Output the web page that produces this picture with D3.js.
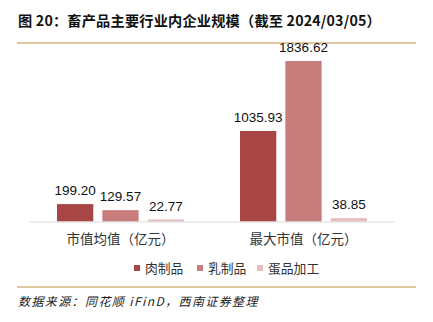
<!DOCTYPE html>
<html><head><meta charset="utf-8">
<script src="https://cdn.jsdelivr.net/npm/d3@7"></script>
<style>
body{margin:0;background:#fff;}
svg{display:block;}
</style></head>
<body><svg id="c" width="433" height="322"></svg>
<script>
const categories = ["市值均值（亿元）", "最大市值（亿元）"];
const seriesNames = ["肉制品", "乳制品", "蛋品加工"];
const meatValues = [199.20, 1035.93];
const dairyValues = [129.57, 1836.62];
const eggValues = [22.77, 38.85];
const colors = ["#A84545", "#C97C7C", "#E6BDBD"];

const seriesValues = [meatValues, dairyValues, eggValues];
const svg = d3.select("#c");
const font = "'Liberation Sans', Arial, sans-serif";
const cjk = "'Noto Sans CJK SC', sans-serif";

// title
svg.append("text").attr("x", 18).attr("y", 26)
  .attr("font-family", cjk).attr("font-weight", "bold").attr("font-size", 14.2)
  .attr("letter-spacing", 0.2)
  .attr("fill", "#111").text("图 20：畜产品主要行业内企业规模（截至 2024/03/05）");
svg.append("line").attr("x1", 17).attr("x2", 416).attr("y1", 43).attr("y2", 43)
  .attr("stroke", "#D6B57E").attr("stroke-width", 1.5);

const baseY = 221.5;
const y = d3.scaleLinear().domain([0, 1836.62]).range([baseY, 61]);
const x0 = d3.scaleBand().domain(categories).range([29, 395]).padding(0);
const x1 = d3.scaleBand().domain(seriesNames).range([28, 155]).paddingInner(0.2).paddingOuter(0);

const g = svg.append("g");
categories.forEach((cat, ci) => {
  seriesNames.forEach((s, si) => {
    const v = seriesValues[si][ci];
    const bx = x0(cat) + x1(s);
    g.append("rect").attr("x", bx).attr("y", y(v))
      .attr("width", x1.bandwidth()).attr("height", baseY - y(v))
      .attr("fill", colors[si]);
    g.append("text").attr("x", bx + x1.bandwidth() / 2).attr("y", y(v) - 9)
      .attr("text-anchor", "middle").attr("font-family", font).attr("font-size", 13.5)
      .attr("fill", "#111").text(v.toFixed(2));
  });
  svg.append("text").attr("x", x0(cat) + x0.bandwidth() / 2).attr("y", 244)
    .attr("text-anchor", "middle").attr("font-family", cjk).attr("font-size", 13.5)
    .attr("fill", "#333").text(cat);
});

// axis line
svg.append("line").attr("x1", 29).attr("x2", 395).attr("y1", baseY + 0.5).attr("y2", baseY + 0.5)
  .attr("stroke", "#D9D9D9").attr("stroke-width", 1);

// legend
const legendX = [134, 197, 257];
seriesNames.forEach((s, i) => {
  svg.append("rect").attr("x", legendX[i]).attr("y", 265).attr("width", 6).attr("height", 6)
    .attr("fill", colors[i]);
  svg.append("text").attr("x", legendX[i] + 11).attr("y", 273)
    .attr("font-family", cjk).attr("font-size", 12.8).attr("fill", "#333").text(s);
});

// footer
svg.append("line").attr("x1", 17).attr("x2", 416).attr("y1", 287).attr("y2", 287)
  .attr("stroke", "#D6B57E").attr("stroke-width", 1.5);
svg.append("text").attr("x", 18).attr("y", 306)
  .attr("font-family", cjk).attr("font-style", "italic").attr("font-size", 12)
  .attr("letter-spacing", 1.4)
  .attr("fill", "#222").text("数据来源：同花顺 iFinD，西南证券整理");
</script></body></html>
